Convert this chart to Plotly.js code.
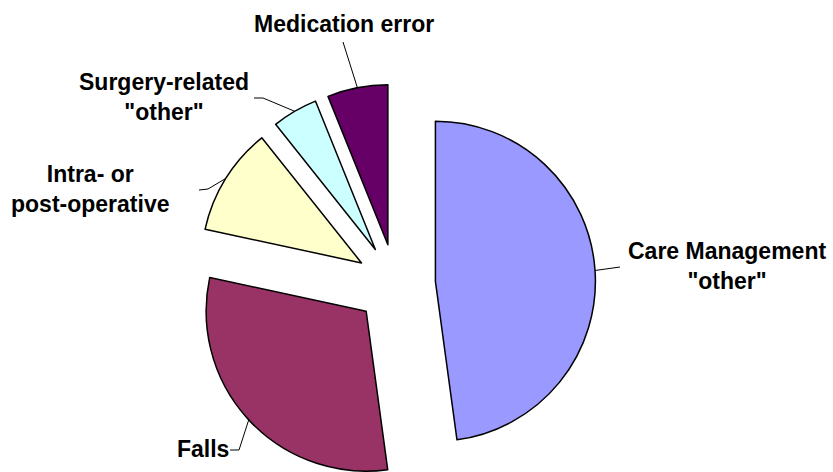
<!DOCTYPE html>
<html>
<head>
<meta charset="utf-8">
<script src="https://cdn.plot.ly/plotly-3.0.1.min.js"></script>
<style>
html, body { margin: 0; padding: 0; overflow: hidden; background: #fff; }
#chart { width: 833px; height: 500px; }
</style>
</head>
<body>
<div id="chart"></div>
<script>
// ---- data ----
const categories = ['Care Management "other"', 'Falls', 'Intra- or post-operative', 'Surgery-related "other"', 'Medication error'];
const labelTexts = ['Care Management<br>"other"', 'Falls', 'Intra- or<br>post-operative', 'Surgery-related<br>"other"', 'Medication error'];
const values = [47.8, 30.5, 10.9, 4.6, 6.1];
const colors = ['#9999FF', '#993366', '#FFFFCC', '#CCFFFF', '#660066'];

// ---- layout geometry (pixels) ----
const W = 833, H = 500;
const CX = 395.5, CY = 284, R = 160, PULL = 0.25;
const half = R * (1 + PULL);
// label centres and leader-line starts / elbows (pixels)
const labelPos = [[727, 266], [203, 449], [90, 189], [164, 97], [344, 24]];
const leaderStart = [[620, 267], [230, 450], [199, 190], [254, 98], [343, 42]];
const leaderElbow = [null, [239, 450], [208, 189], [263, 98], null];

const px = x => x / W;
const py = y => 1 - y / H;

// anchor points at the mid-angle of each (pulled) slice
const total = values.reduce((a, b) => a + b, 0);
let start = 0;
const anchors = values.map(v => {
  const sweep = v / total * 360;
  const mid = (start + sweep / 2) * Math.PI / 180;
  start += sweep;
  const d = R + PULL * R;
  return [CX + d * Math.sin(mid), CY - d * Math.cos(mid)];
});

const trace = {
  type: 'pie',
  labels: categories,
  values: values,
  sort: false,
  direction: 'clockwise',
  rotation: 0,
  pull: values.map(() => PULL),
  marker: { colors: colors, line: { color: '#000000', width: 1.5 } },
  textinfo: 'none',
  hoverinfo: 'label+percent',
  showlegend: false,
  domain: { x: [px(CX - half), px(CX + half)], y: [py(CY + half), py(CY - half)] }
};

const annotations = labelTexts.map((t, i) => ({
  xref: 'paper', yref: 'paper',
  x: px(labelPos[i][0]), y: py(labelPos[i][1]),
  xanchor: 'center', yanchor: 'middle', align: 'center',
  text: t, showarrow: false,
  font: { family: 'Liberation Sans, Arial, sans-serif', size: 23, color: '#000000', weight: 'bold' }
}));

const shapes = anchors.map((a, i) => {
  let p = 'M ' + px(leaderStart[i][0]) + ' ' + py(leaderStart[i][1]);
  if (leaderElbow[i]) p += ' L ' + px(leaderElbow[i][0]) + ' ' + py(leaderElbow[i][1]);
  p += ' L ' + px(a[0]) + ' ' + py(a[1]);
  return { type: 'path', xref: 'paper', yref: 'paper', path: p, line: { color: '#000000', width: 1 } };
});

const layout = {
  width: W, height: H,
  margin: { l: 0, r: 0, t: 0, b: 0 },
  paper_bgcolor: '#ffffff',
  plot_bgcolor: '#ffffff',
  annotations: annotations,
  shapes: shapes
};

Plotly.newPlot('chart', [trace], layout, { displayModeBar: false, staticPlot: true });
</script>
</body>
</html>
